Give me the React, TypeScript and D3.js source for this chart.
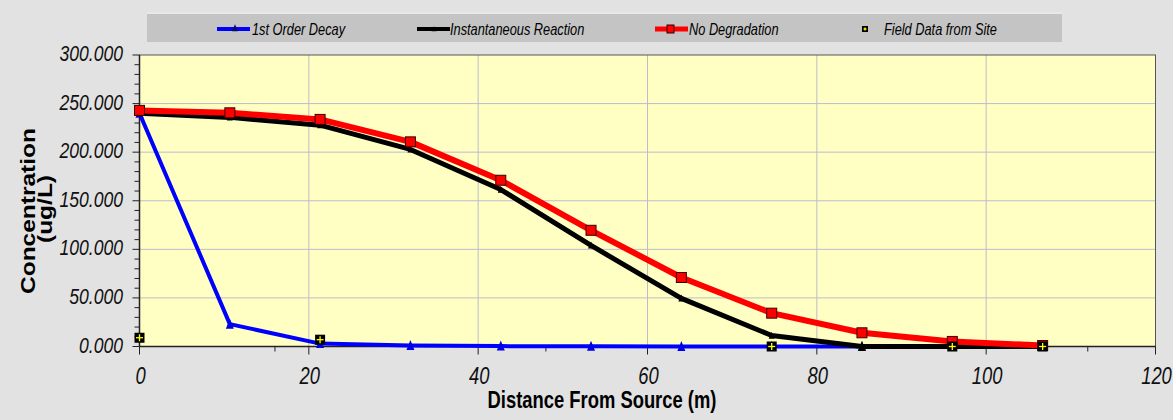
import React from "react";
import * as d3 from "d3";

const distances = [0, 10.67, 21.33, 32, 42.67, 53.33, 64, 74.67, 85.33, 96, 106.67];
const firstOrder = [240, 23, 3, 1, 0.4, 0.2, 0.1, 0.05, 0, 0, 0];
const instantaneous = [240, 235.8, 227.8, 202.8, 161.5, 104, 49.5, 11.3, 0, 0, 0];
const noDegradation = [243, 240.5, 233.7, 210.6, 171.1, 119.6, 71, 34.3, 14.1, 5.2, 1];
const fieldX = [0, 21.33, 74.67, 96, 106.67];
const fieldY = [9, 7, 0, 0, 0];

const xTicks = [0, 20, 40, 60, 80, 100, 120];
const xMinorTicks = [16, 48, 112];
const yTicks = [0, 50, 100, 150, 200, 250, 300];
const yMinorTicks = d3.range(0, 301, 10);

const legendItems = ["1st Order Decay", "Instantaneous Reaction", "No Degradation", "Field Data from Site"];

const W = 1173;
const H = 420;
const SX = 0.8;
const FONT = "'Liberation Sans', Arial, Helvetica, sans-serif";

function CText(props: any) {
  const { x, y, sx = SX, rot = 0, children, ...rest } = props;
  return (
    <text
      transform={`translate(${x},${y}) scale(${sx},1)${rot ? ` rotate(${rot})` : ""}`}
      fontFamily={FONT}
      {...rest}
    >
      {children}
    </text>
  );
}

function Tri({ cx, cy, s, h, fill }: any) {
  const hh = h || s;
  return (
    <path
      d={`M${cx},${cy - hh * 0.55} L${cx + s / 2},${cy + hh * 0.45} L${cx - s / 2},${cy + hh * 0.45} Z`}
      fill={fill}
    />
  );
}

function Field({ cx, cy, s }: any) {
  return (
    <g>
      <rect x={cx - s / 2} y={cy - s / 2} width={s} height={s} fill="#000" />
      <line x1={cx - s / 2 + 1.5} x2={cx + s / 2 - 1.5} y1={cy} y2={cy} stroke="#ffff00" strokeWidth={1.3} />
      <line x1={cx} x2={cx} y1={cy - s / 2 + 1.5} y2={cy + s / 2 - 1.5} stroke="#ffff00" strokeWidth={1.3} />
    </g>
  );
}

export default function App() {
  const x = d3.scaleLinear().domain([0, 120]).range([139.5, 1155.5]);
  const y = d3.scaleLinear().domain([0, 300]).range([346.5, 55]);
  const line = d3
    .line<number>()
    .x((_, i) => x(distances[i]))
    .y((d) => y(d));

  const legendTx = [252, 450, 689, 884];
  const ly = 29;

  return (
    <svg width={W} height={H} style={{ position: "absolute", left: 0, top: 0 }}>
      <rect x={0} y={0} width={W} height={H} fill="#e2e2e2" />
      {/* legend */}
      <rect x={147} y={14} width={915} height={28} fill="#c4c4c4" />
      <line x1={147} x2={1062} y1={13} y2={13} stroke="#efefef" strokeWidth={1} />
      {legendItems.map((t, i) => (
        <CText key={t} x={legendTx[i]} y={35} fontSize={16} fontStyle="italic" fill="#000">
          {t}
        </CText>
      ))}
      <line x1={217} x2={250} y1={ly} y2={ly} stroke="#0000ff" strokeWidth={4} />
      <Tri cx={235} cy={ly - 1} s={6} h={7} fill="#0a0a6a" />
      <line x1={417} x2={450} y1={ly} y2={ly} stroke="#000" strokeWidth={4} />
      <Tri cx={434} cy={ly} s={5} fill="#000" />
      <line x1={655} x2={688} y1={ly} y2={ly} stroke="#ff0000" strokeWidth={5} />
      <rect x={667} y={ly - 4} width={7} height={8} fill="#ff0000" stroke="#300" strokeWidth={1} />
      <Field cx={865} cy={ly} s={6} />

      {/* plot area */}
      <rect x={x(0)} y={y(300)} width={x(120) - x(0)} height={y(0) - y(300)} fill="#ffffc4" />
      {xTicks.slice(1, -1).map((t) => (
        <line key={"gx" + t} x1={x(t)} x2={x(t)} y1={y(300)} y2={y(0)} stroke="#bcbccb" strokeWidth={1} />
      ))}
      {yTicks.slice(1, -1).map((t) => (
        <line key={"gy" + t} x1={x(0)} x2={x(120)} y1={y(t)} y2={y(t)} stroke="#bcbccb" strokeWidth={1} />
      ))}
      <rect x={x(0)} y={y(300)} width={x(120) - x(0)} height={y(0) - y(300)} fill="none" stroke="#555" strokeWidth={1} />

      {/* axes */}
      <line x1={x(0)} x2={x(0)} y1={y(300)} y2={y(0)} stroke="#222" strokeWidth={1.5} />
      <line x1={x(0)} x2={x(120)} y1={y(0)} y2={y(0)} stroke="#222" strokeWidth={1.5} />
      {yMinorTicks.map((t) => (
        <line key={"ym" + t} x1={x(0) - (t % 50 === 0 ? 7 : 5)} x2={x(0)} y1={y(t)} y2={y(t)} stroke="#222" strokeWidth={1} />
      ))}
      {xTicks.map((t) => (
        <line key={"xt" + t} x1={x(t)} x2={x(t)} y1={y(0)} y2={y(0) + 8} stroke="#222" strokeWidth={1} />
      ))}
      {xMinorTicks.map((t) => (
        <line key={"xm" + t} x1={x(t)} x2={x(t)} y1={y(0)} y2={y(0) + 5} stroke="#222" strokeWidth={1} />
      ))}

      {/* series */}
      <path d={line(firstOrder) || ""} fill="none" stroke="#0000ff" strokeWidth={4} strokeLinejoin="round" />
      {firstOrder.map((v, i) => (
        <Tri key={"b" + i} cx={x(distances[i])} cy={y(v)} s={8} h={10} fill="#0000e6" />
      ))}
      <path d={line(instantaneous) || ""} fill="none" stroke="#000" strokeWidth={5} strokeLinejoin="round" />
      {instantaneous.map((v, i) => (
        <Tri key={"k" + i} cx={x(distances[i])} cy={y(v)} s={i >= 8 ? 8 : 6} h={i >= 8 ? 10 : 7} fill="#000" />
      ))}
      <path d={line(noDegradation) || ""} fill="none" stroke="#ff0000" strokeWidth={6} strokeLinejoin="round" />
      {noDegradation.map((v, i) => (
        <rect
          key={"r" + i}
          x={x(distances[i]) - 5}
          y={y(v) - 5}
          width={10}
          height={10}
          fill="#ff0000"
          stroke="#3a0000"
          strokeWidth={1}
        />
      ))}
      {fieldX.map((fx, i) => (
        <Field key={"f" + i} cx={x(fx)} cy={y(fieldY[i])} s={10} />
      ))}

      {/* labels */}
      {yTicks.map((t) => (
        <CText key={"yl" + t} x={123} y={y(t) + 6} fontSize={22} fontStyle="italic" textAnchor="end" fill="#111">
          {d3.format(".3f")(t)}
        </CText>
      ))}
      {xTicks.map((t) => (
        <CText key={"xl" + t} x={x(t) + 1} y={384} fontSize={23} fontStyle="italic" textAnchor="middle" fill="#111">
          {String(t)}
        </CText>
      ))}
      <CText x={602} y={408} fontSize={23} fontWeight="bold" textAnchor="middle" fill="#000">
        Distance From Source (m)
      </CText>
      <CText x={35} y={211} rot={-90} fontSize={24.5} fontWeight="bold" textAnchor="middle" fill="#000">
        Concentration
      </CText>
      <CText x={52} y={209} rot={-90} fontSize={24.5} fontWeight="bold" textAnchor="middle" fill="#000">
        (ug/L)
      </CText>
    </svg>
  );
}
